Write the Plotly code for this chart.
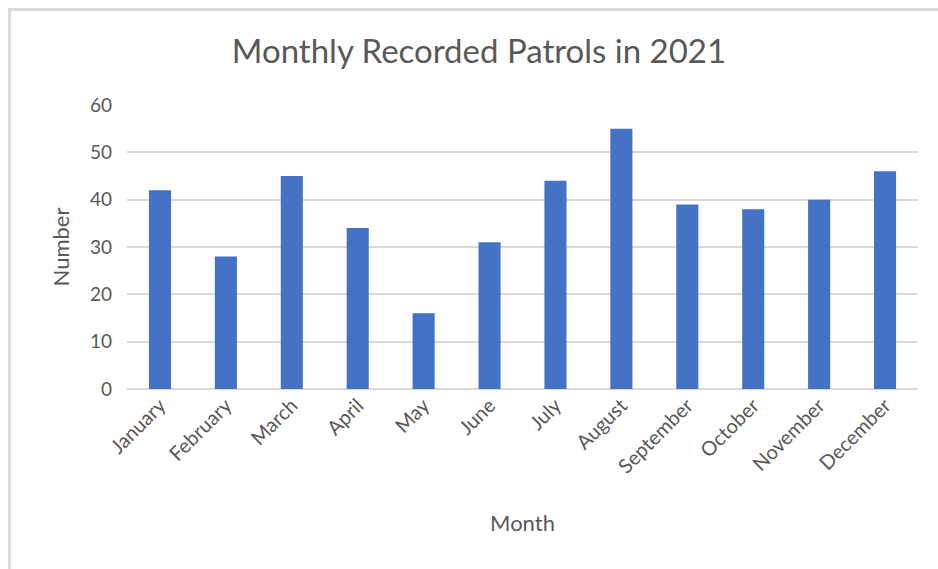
import plotly.graph_objects as go

# Monthly patrol counts for 2021
months = ["January", "February", "March", "April", "May", "June",
          "July", "August", "September", "October", "November", "December"]
patrols = [42, 28, 45, 34, 16, 31, 44, 55, 39, 38, 40, 46]
y_ticks = [0, 10, 20, 30, 40, 50, 60]

TEXT = "#595959"
GRID = "#D9D9D9"
FONT = "Lato"

fig = go.Figure(
    go.Bar(
        x=months,
        y=patrols,
        marker=dict(color="#4472C4", line=dict(width=0)),
    )
)

W, H = 938, 569
L, R, T, B = 127, 20, 105, 180
pw, ph = W - L - R, H - T - B


def px_x(px):
    return (px - L) / pw


def px_y(py):
    return (H - B - py) / ph


fig.update_layout(
    width=W,
    height=H,
    margin=dict(l=L, r=R, t=T, b=B, autoexpand=False),
    paper_bgcolor="white",
    plot_bgcolor="white",
    bargap=0.665,
    showlegend=False,
    font=dict(family=FONT, color=TEXT),
    title=dict(
        text="Monthly Recorded Patrols in 2021",
        font=dict(family=FONT, size=33, color=TEXT),
        xref="container", x=479 / W, xanchor="center",
        yref="container", y=1 - 51 / H, yanchor="middle",
    ),
    xaxis=dict(
        tickangle=-45,
        tickfont=dict(family=FONT, size=20, color=TEXT),
        showgrid=False,
        showline=False,
        ticks="",
        title=dict(text="Month", font=dict(family=FONT, size=22, color=TEXT), standoff=39),
    ),
    yaxis=dict(
        range=[0, 60],
        tickvals=y_ticks,
        tickfont=dict(family=FONT, size=19, color=TEXT),
        showgrid=True,
        gridcolor=GRID,
        gridwidth=2,
        zeroline=True,
        zerolinecolor=GRID,
        zerolinewidth=2,
        ticks="",
        ticklabelstandoff=14,
        title=dict(text="Number", font=dict(family=FONT, size=22, color=TEXT), standoff=14),
    ),
    shapes=[
        # chart frame: left and top edges
        dict(type="line", xref="paper", yref="paper",
             x0=px_x(9.5), x1=px_x(9.5), y0=px_y(9), y1=px_y(H + 5),
             line=dict(color=GRID, width=3)),
        dict(type="line", xref="paper", yref="paper",
             x0=px_x(8), x1=px_x(W + 5), y0=px_y(9.5), y1=px_y(9.5),
             line=dict(color=GRID, width=3)),
    ],
)

fig.write_html("out.html")
